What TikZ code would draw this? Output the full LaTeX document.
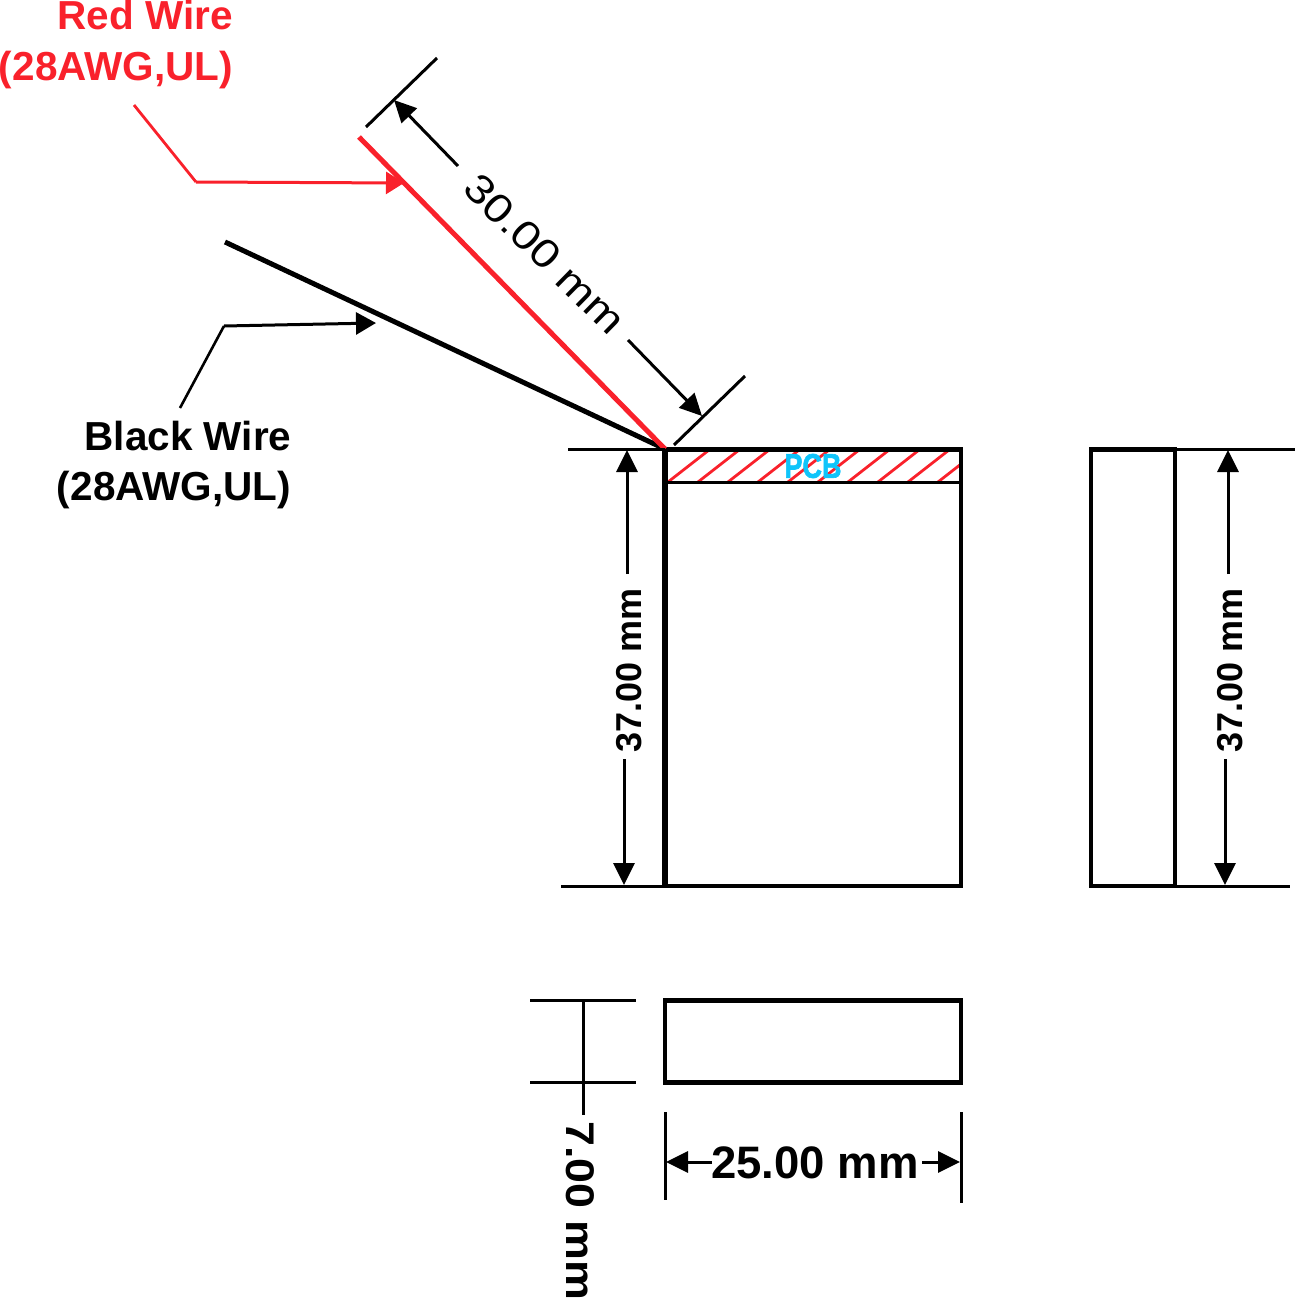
\documentclass[tikz,border=0pt]{standalone}
\usepackage{fontspec}
\setmainfont{Liberation Sans}
\newfontfamily\pcbfont[FakeBold=2,BoldFont={Liberation Sans Bold}]{Liberation Sans Bold}
\usetikzlibrary{arrows.meta}
\definecolor{wirered}{HTML}{F9212B}
\definecolor{pcbcyan}{HTML}{0FC4FA}
\tikzset{
  body/.style={draw=black,line width=4.8pt},
  heavyedge/.style={draw=black,line width=6pt},
  thinbody/.style={draw=black,line width=3pt},
  extline/.style={draw=black,line width=3pt},
  dimarrow/.style={draw=black,line width=3pt,-{Triangle[length=22pt,width=21pt]}},
  redarrow/.style={draw=wirered,line width=3pt,-{Triangle[length=18pt,width=22pt]}},
  blackarrow/.style={draw=black,line width=3pt,-{Triangle[length=20pt,width=22pt]}},
  redthin/.style={draw=wirered,line width=2.8pt},
  blackthin/.style={draw=black,line width=2.6pt},
  wirer/.style={draw=wirered,line width=5pt},
  wirek/.style={draw=black,line width=5pt},
  hatchline/.style={draw=wirered,line width=2.8pt},
  lbl/.style={inner sep=0pt,outer sep=0pt,anchor=base,font=\bfseries\fontsize{40.5}{40.5}\selectfont},
  dimlbl/.style={inner sep=0pt,outer sep=0pt,font=\bfseries\fontsize{36}{36}\selectfont},
}
\begin{document}
\begin{tikzpicture}[x=1pt,y=-1pt]
\useasboundingbox (0,0) rectangle (1295,1298);
% hatch
\begin{scope}
\clip (665,450) rectangle (960,482);
\foreach \k in {0,...,9}{
  \draw[hatchline] (668+30*\k,482) -- (668+30*\k+41,450);
}
\end{scope}
% reference points
\coordinate (wireorigin) at (665,449);
\coordinate (redend) at (359,137);
\coordinate (blackend) at (225,242);
% bodies
\draw[body] (665,449.5) rectangle (961,886);
\draw[heavyedge] (665,447) -- (665,888);
\draw[thinbody] (665,482) -- (961,482);
\draw[body] (1091,449.5) rectangle (1175,886);
\draw[body] (665,1000.5) rectangle (961,1082.5);
% wires
\draw[wirek] (blackend) -- (wireorigin);
\draw[wirer] (redend) -- (wireorigin);
% PCB
\node[inner sep=0pt,text=pcbcyan,font=\pcbfont\fontsize{27}{27}\selectfont,yscale=1.27] (pcb) at (813,466) {PCB};
% Red label
\node[lbl,text=wirered] (redA) at (145,30) {Red Wire};
\node[lbl,text=wirered] (redB) at (116,81) {(28AWG,UL)};
\coordinate (redL0) at (134,105);
\coordinate (redL1) at (196,182);
\coordinate (redL2) at (404,183);
\draw[redthin] (redL0) -- (redL1);
\draw[redarrow] (redL1) -- (redL2);
% Black label
\node[lbl] (blackA) at (188,450) {Black Wire};
\node[lbl] (blackB) at (174,500) {(28AWG,UL)};
\coordinate (blkL0) at (180,408);
\coordinate (blkL1) at (224,326);
\coordinate (blkL2) at (376,323);
\draw[blackthin] (blkL0) -- (blkL1);
\draw[blackarrow] (blkL1) -- (blkL2);
% 30 mm
\coordinate (e1a) at (366,127); \coordinate (e1b) at (437,58);
\coordinate (e2a) at (674,445); \coordinate (e2b) at (745,376);
\draw[extline] (e1a) -- (e1b);
\draw[extline] (e2a) -- (e2b);
\node[inner sep=0pt,font=\fontsize{40}{40}\selectfont,rotate=-44.5,xscale=1.17] (d30) at (545,254) {30.00 mm};
\coordinate (a30a) at (458,166); \coordinate (a30b) at (394,100);
\coordinate (a30c) at (628,340); \coordinate (a30d) at (702,416);
\draw[dimarrow] (a30a) -- (a30b);
\draw[dimarrow] (a30c) -- (a30d);
% 37 mm left
\coordinate (l1a) at (568,449); \coordinate (l1b) at (665,449);
\coordinate (l2a) at (561,886); \coordinate (l2b) at (665,886);
\draw[extline] (l1a) -- (l1b);
\draw[extline] (l2a) -- (l2b);
\node[dimlbl,rotate=90] (d37l) at (629,670) {37.00 mm};
\coordinate (la1) at (627,574); \coordinate (la2) at (627,450);
\coordinate (la3) at (624,759); \coordinate (la4) at (624,885);
\draw[dimarrow] (la1) -- (la2);
\draw[dimarrow] (la3) -- (la4);
% 37 mm right
\coordinate (r1a) at (1175,449); \coordinate (r1b) at (1295,449);
\coordinate (r2a) at (1175,886); \coordinate (r2b) at (1290,886);
\draw[extline] (r1a) -- (r1b);
\draw[extline] (r2a) -- (r2b);
\node[dimlbl,rotate=90] (d37r) at (1230,670) {37.00 mm};
\coordinate (ra1) at (1228,574); \coordinate (ra2) at (1228,450);
\coordinate (ra3) at (1225,759); \coordinate (ra4) at (1225,885);
\draw[dimarrow] (ra1) -- (ra2);
\draw[dimarrow] (ra3) -- (ra4);
% 7 mm
\coordinate (s1a) at (530,1000); \coordinate (s1b) at (636,1000);
\coordinate (s2a) at (530,1082); \coordinate (s2b) at (636,1082);
\coordinate (s3a) at (583,1000); \coordinate (s3b) at (583,1115);
\draw[extline] (s1a) -- (s1b);
\draw[extline] (s2a) -- (s2b);
\draw[extline] (s3a) -- (s3b);
\node[inner sep=0pt,font=\bfseries\fontsize{40}{40}\selectfont,rotate=-90,xscale=1.12,anchor=west] (d7) at (580.5,1121) {7.00 mm};
% 25 mm
\coordinate (b1a) at (665,1112); \coordinate (b1b) at (665,1200);
\coordinate (b2a) at (961,1112); \coordinate (b2b) at (961,1203);
\draw[extline] (b1a) -- (b1b);
\draw[extline] (b2a) -- (b2b);
\node[inner sep=0pt,anchor=base,font=\bfseries\fontsize{45.5}{45.5}\selectfont] (d25) at (815,1178) {25.00 mm};
\coordinate (ba1) at (712,1162); \coordinate (ba2) at (666,1162);
\coordinate (ba3) at (922,1162); \coordinate (ba4) at (960,1162);
\draw[dimarrow] (ba1) -- (ba2);
\draw[dimarrow] (ba3) -- (ba4);
\end{tikzpicture}
\end{document}
